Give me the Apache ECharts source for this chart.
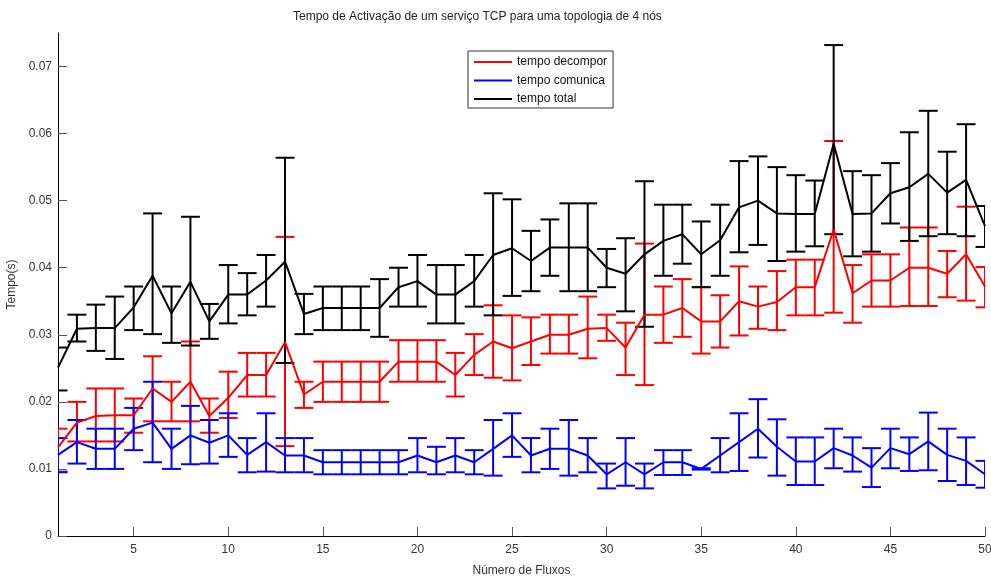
<!DOCTYPE html>
<html>
<head>
<meta charset="utf-8">
<title>Tempo de Activação</title>
<script src="https://cdn.jsdelivr.net/npm/echarts@6/dist/echarts.min.js"></script>
<style>
  html, body { margin: 0; padding: 0; background: #fff; }
  #chart { width: 991px; height: 581px; }
</style>
</head>
<body>
<div id="chart"></div>
<script>
// numero de fluxos
var fluxos = [1, 2, 3, 4, 5, 6, 7, 8, 9, 10, 11, 12, 13, 14, 15, 16, 17, 18, 19, 20,
  21, 22, 23, 24, 25, 26, 27, 28, 29, 30, 31, 32, 33, 34, 35, 36, 37, 38, 39, 40,
  41, 42, 43, 44, 45, 46, 47, 48, 49, 50]

// tempo decompor (media, limite inferior, limite superior)
var decompor = [0.0132, 0.0169, 0.0179, 0.0180, 0.0180, 0.0220, 0.0200, 0.0230, 0.0179, 0.0206,
  0.0240, 0.0240, 0.0289, 0.0211, 0.0230, 0.0230, 0.0230, 0.0230, 0.0260, 0.0260,
  0.0260, 0.0240, 0.0270, 0.0290, 0.0280, 0.0290, 0.0300, 0.0300, 0.0309, 0.0310,
  0.0281, 0.0330, 0.0330, 0.0340, 0.0320, 0.0320, 0.0350, 0.0342, 0.0349, 0.0371,
  0.0371, 0.0457, 0.0362, 0.0381, 0.0381, 0.0400, 0.0400, 0.0391, 0.0420, 0.0372]
var decomporMin = [0.0096, 0.0141, 0.0141, 0.0141, 0.0154, 0.0171, 0.0171, 0.0171, 0.0154, 0.0176,
  0.0208, 0.0208, 0.0134, 0.0191, 0.0200, 0.0200, 0.0200, 0.0200, 0.0230, 0.0230,
  0.0230, 0.0208, 0.0240, 0.0236, 0.0232, 0.0255, 0.0272, 0.0272, 0.0265, 0.0291,
  0.0240, 0.0225, 0.0288, 0.0297, 0.0272, 0.0281, 0.0299, 0.0309, 0.0307, 0.0329,
  0.0329, 0.0333, 0.0318, 0.0342, 0.0342, 0.0343, 0.0343, 0.0356, 0.0351, 0.0341]
var decomporMax = [0.0160, 0.0200, 0.0220, 0.0220, 0.0205, 0.0268, 0.0230, 0.0290, 0.0205, 0.0245,
  0.0273, 0.0273, 0.0446, 0.0230, 0.0260, 0.0260, 0.0260, 0.0260, 0.0292, 0.0292,
  0.0292, 0.0273, 0.0301, 0.0344, 0.0329, 0.0326, 0.0330, 0.0330, 0.0357, 0.0330,
  0.0318, 0.0436, 0.0372, 0.0383, 0.0371, 0.0359, 0.0402, 0.0372, 0.0395, 0.0412,
  0.0412, 0.0589, 0.0404, 0.0420, 0.0420, 0.0460, 0.0460, 0.0425, 0.0491, 0.0401]

// tempo comunica
var comunica = [0.0121, 0.0140, 0.0130, 0.0130, 0.0160, 0.0169, 0.0130, 0.0150, 0.0139, 0.0150,
  0.0121, 0.0140, 0.0120, 0.0120, 0.0110, 0.0110, 0.0110, 0.0110, 0.0110, 0.0120,
  0.0110, 0.0120, 0.0110, 0.0130, 0.0150, 0.0120, 0.0130, 0.0130, 0.0120, 0.0092,
  0.0110, 0.0092, 0.0110, 0.0110, 0.0100, 0.0120, 0.0140, 0.0160, 0.0133, 0.0111,
  0.0111, 0.0131, 0.0120, 0.0102, 0.0131, 0.0122, 0.0141, 0.0121, 0.0112, 0.0092]
var comunicaMin = [0.0095, 0.0108, 0.0100, 0.0100, 0.0128, 0.0110, 0.0100, 0.0107, 0.0108, 0.0118,
  0.0095, 0.0096, 0.0095, 0.0095, 0.0092, 0.0092, 0.0092, 0.0092, 0.0092, 0.0095,
  0.0092, 0.0095, 0.0092, 0.0090, 0.0118, 0.0095, 0.0100, 0.0090, 0.0095, 0.0071,
  0.0075, 0.0071, 0.0091, 0.0091, 0.0099, 0.0095, 0.0097, 0.0117, 0.0090, 0.0076,
  0.0076, 0.0101, 0.0096, 0.0073, 0.0101, 0.0097, 0.0098, 0.0082, 0.0076, 0.0072]
var comunicaMax = [0.0146, 0.0173, 0.0160, 0.0160, 0.0191, 0.0230, 0.0160, 0.0194, 0.0173, 0.0183,
  0.0146, 0.0183, 0.0146, 0.0146, 0.0128, 0.0128, 0.0128, 0.0128, 0.0128, 0.0146,
  0.0133, 0.0146, 0.0128, 0.0173, 0.0183, 0.0146, 0.0160, 0.0173, 0.0146, 0.0108,
  0.0146, 0.0108, 0.0128, 0.0128, 0.0101, 0.0146, 0.0183, 0.0204, 0.0174, 0.0147,
  0.0147, 0.0160, 0.0147, 0.0131, 0.0160, 0.0147, 0.0184, 0.0160, 0.0147, 0.0112]

// tempo total
var total = [0.0251, 0.0309, 0.0310, 0.0310, 0.0341, 0.0388, 0.0332, 0.0379, 0.0320, 0.0360,
  0.0360, 0.0381, 0.0409, 0.0331, 0.0340, 0.0340, 0.0340, 0.0340, 0.0371, 0.0380,
  0.0360, 0.0360, 0.0380, 0.0419, 0.0429, 0.0410, 0.0430, 0.0430, 0.0430, 0.0400,
  0.0391, 0.0420, 0.0440, 0.0450, 0.0420, 0.0441, 0.0490, 0.0500, 0.0481, 0.0480,
  0.0480, 0.0585, 0.0480, 0.0481, 0.0511, 0.0520, 0.0540, 0.0512, 0.0531, 0.0462]
var totalMin = [0.0217, 0.0290, 0.0276, 0.0264, 0.0307, 0.0301, 0.0288, 0.0284, 0.0294, 0.0317,
  0.0329, 0.0342, 0.0258, 0.0301, 0.0307, 0.0307, 0.0307, 0.0297, 0.0342, 0.0342,
  0.0317, 0.0317, 0.0342, 0.0329, 0.0358, 0.0365, 0.0388, 0.0365, 0.0365, 0.0371,
  0.0335, 0.0312, 0.0388, 0.0406, 0.0371, 0.0388, 0.0423, 0.0434, 0.0410, 0.0424,
  0.0432, 0.0450, 0.0417, 0.0424, 0.0466, 0.0440, 0.0447, 0.0450, 0.0447, 0.0431]
var totalMax = [0.0281, 0.0330, 0.0345, 0.0357, 0.0372, 0.0481, 0.0372, 0.0476, 0.0346, 0.0404,
  0.0392, 0.0419, 0.0564, 0.0361, 0.0372, 0.0372, 0.0372, 0.0383, 0.0400, 0.0419,
  0.0404, 0.0404, 0.0419, 0.0511, 0.0502, 0.0455, 0.0472, 0.0496, 0.0496, 0.0428,
  0.0444, 0.0529, 0.0494, 0.0494, 0.0469, 0.0494, 0.0559, 0.0566, 0.0550, 0.0538,
  0.0530, 0.0732, 0.0544, 0.0538, 0.0556, 0.0602, 0.0634, 0.0573, 0.0614, 0.0492]

var xTicks = [5, 10, 15, 20, 25, 30, 35, 40, 45, 50]
var yTicks = [0, 0.01, 0.02, 0.03, 0.04, 0.05, 0.06, 0.07]

var FONT = 'Liberation Sans'

function pairs(ys) {
  return fluxos.map(function (x, i) { return [x, ys[i]] })
}
function bars(lo, hi) {
  return fluxos.map(function (x, i) { return [x, lo[i], hi[i]] })
}

function errorBars(name, color, lo, hi) {
  return {
    name: name + ' erro',
    type: 'custom',
    clip: true,
    silent: true,
    data: bars(lo, hi),
    encode: { x: 0, y: [1, 2] },
    renderItem: function (params, api) {
      var x = api.value(0)
      var p1 = api.coord([x, api.value(1)])
      var p2 = api.coord([x, api.value(2)])
      var half = api.size([1, 0])[0] * 0.5
      var style = { stroke: color, lineWidth: 2, fill: null }
      return {
        type: 'group',
        children: [
          { type: 'line', shape: { x1: p1[0], y1: p1[1], x2: p2[0], y2: p2[1] }, style: style },
          { type: 'line', shape: { x1: p1[0] - half, y1: p1[1], x2: p1[0] + half, y2: p1[1] }, style: style },
          { type: 'line', shape: { x1: p2[0] - half, y1: p2[1], x2: p2[0] + half, y2: p2[1] }, style: style }
        ]
      }
    }
  }
}

function meanLine(name, color, ys) {
  return {
    name: name,
    type: 'line',
    data: pairs(ys),
    symbol: 'none',
    clip: true,
    lineStyle: { color: color, width: 2 },
    itemStyle: { color: color },
    animation: false
  }
}

var chart = echarts.init(document.getElementById('chart'))
chart.setOption({
  animation: false,
  backgroundColor: '#fff',
  title: {
    text: 'Tempo de Activação de um serviço TCP para uma topologia de 4 nós',
    left: 293,
    top: 11,
    padding: 0,
    textStyle: { fontFamily: FONT, fontSize: 12, fontWeight: 'normal', color: '#222' }
  },
  legend: {
    data: ['tempo decompor', 'tempo comunica', 'tempo total'],
    orient: 'vertical',
    left: 468,
    top: 51,
    padding: [5, 6, 3, 6],
    itemGap: 6.5,
    itemWidth: 38,
    itemHeight: 2,
    icon: 'rect',
    backgroundColor: '#fff',
    borderColor: '#333',
    borderWidth: 1,
    borderRadius: 0,
    selectedMode: false,
    textStyle: { fontFamily: FONT, fontSize: 12, color: '#111' }
  },
  grid: { left: 58, right: 6, top: 33, bottom: 45, outerBoundsMode: 'none' },
  xAxis: {
    type: 'value',
    min: 1,
    max: 50,
    name: 'Número de Fluxos',
    nameLocation: 'middle',
    nameGap: 29,
    nameTextStyle: { fontFamily: FONT, fontSize: 12, color: '#333' },
    axisLine: { onZero: false, lineStyle: { color: '#000', width: 1 } },
    axisTick: { inside: true, length: 9, customValues: xTicks, lineStyle: { color: '#555' } },
    axisLabel: { customValues: xTicks, margin: 8, fontFamily: FONT, fontSize: 12, color: '#333' },
    splitLine: { show: false }
  },
  yAxis: {
    type: 'value',
    min: 0,
    max: 0.075,
    name: 'Tempo(s)',
    nameLocation: 'middle',
    nameGap: 33,
    nameTextStyle: { fontFamily: FONT, fontSize: 12, color: '#333' },
    axisLine: { show: true, onZero: false, lineStyle: { color: '#000', width: 1 } },
    axisTick: { show: true, inside: true, length: 9, customValues: yTicks, lineStyle: { color: '#555' } },
    axisLabel: { customValues: yTicks, margin: 6, fontFamily: FONT, fontSize: 12, color: '#333' },
    splitLine: { show: false }
  },
  series: [
    errorBars('tempo decompor', '#ff0000', decomporMin, decomporMax),
    meanLine('tempo decompor', '#ff0000', decompor),
    errorBars('tempo comunica', '#0000ff', comunicaMin, comunicaMax),
    meanLine('tempo comunica', '#0000ff', comunica),
    errorBars('tempo total', '#000000', totalMin, totalMax),
    meanLine('tempo total', '#000000', total)
  ]
})
</script>
</body>
</html>
